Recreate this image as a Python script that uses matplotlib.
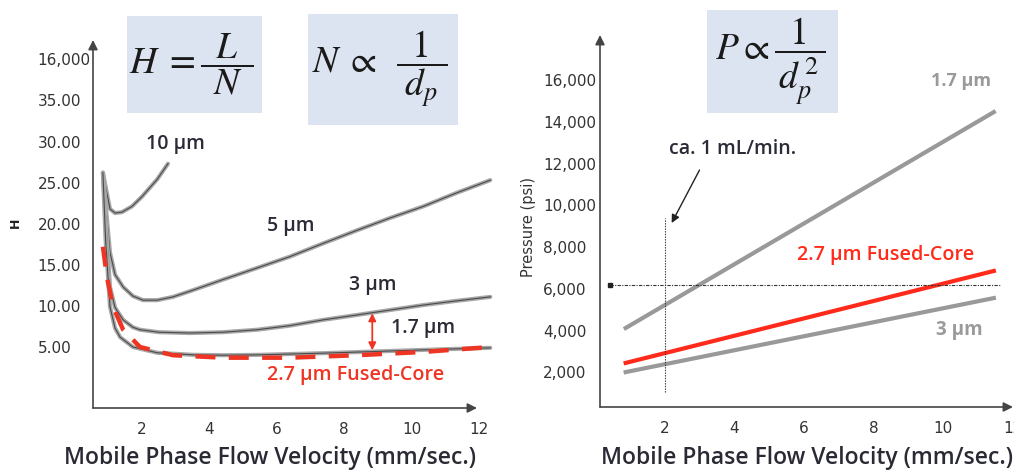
import matplotlib.pyplot as plt
from matplotlib.patches import Rectangle

plt.rcParams['mathtext.fontset'] = 'stix'

W, H = 1014, 472

# ---- left panel: van Deemter curves (H vs flow velocity) ----
h_ticks = [5, 10, 15, 20, 25, 30, 35, 40]
h_labels = ['5.00', '10.00', '15.00', '20.00', '25.00', '30.00', '35.00', '16,000']
flow_ticks = [2, 4, 6, 8, 10, 12]

x_10um = [0.84, 0.92, 1.05, 1.2, 1.4, 1.7, 2.0, 2.45, 2.77]
h_10um = [26.2, 24.5, 21.8, 21.3, 21.4, 22.1, 23.3, 25.4, 27.3]

x_5um = [0.84, 0.95, 1.05, 1.2, 1.44, 1.73, 2.03, 2.45, 2.92, 3.5, 4.4, 5.4, 6.39,
         7.37, 8.38, 9.36, 10.34, 11.3, 12.33]
h_5um = [26.2, 21.0, 16.5, 13.8, 12.3, 11.2, 10.7, 10.7, 11.1, 11.9, 13.2, 14.6, 16.0,
         17.6, 19.2, 20.7, 22.1, 23.7, 25.3]

x_3um = [0.84, 0.93, 1.05, 1.2, 1.44, 1.73, 1.94, 2.5, 3.42, 4.4, 5.41, 6.39, 7.37,
         8.38, 9.36, 10.34, 11.3, 12.33]
h_3um = [26.2, 20.0, 12.3, 9.8, 8.3, 7.4, 7.1, 6.8, 6.7, 6.8, 7.1, 7.6, 8.3,
         8.9, 9.5, 10.1, 10.6, 11.1]

x_17um = [0.84, 0.92, 1.05, 1.2, 1.35, 1.73, 2.45, 3.5, 4.4, 5.5, 7.37, 8.5, 10.34, 12.33]
h_17um = [26.2, 18.0, 9.9, 7.3, 6.2, 5.0, 4.3, 4.05, 4.0, 4.05, 4.25, 4.4, 4.65, 4.9]

x_fc = [0.84, 0.96, 1.14, 1.44, 1.94, 2.92, 4.4, 6.39, 8.38, 10.34, 12.33]
h_fc = [17.2, 13.5, 9.9, 7.1, 5.0, 4.0, 3.7, 3.7, 4.0, 4.4, 5.0]

# ---- right panel: pressure vs flow velocity ----
p_ticks = [2000, 4000, 6000, 8000, 10000, 12000, 14000, 16000]
x_p = [0.88, 11.45]
p_17um = [4125, 14480]
p_fc = [2450, 6860]
p_3um = [2010, 5560]
p_limit = 6200
flow_1ml = 2.0

RED = '#ee3524'
DARK = '#2b2b38'
BOX = '#dde4f1'

fig = plt.figure(figsize=(W / 100, H / 100), dpi=100)


def add_ax(left, right, top, bottom):
    return fig.add_axes([left / W, 1 - bottom / H, (right - left) / W, (bottom - top) / H])


def arrow_axes(ax, x1, y1):
    ax.annotate('', xy=(x1, y1), xytext=(0, 0), xycoords='axes fraction',
                arrowprops=dict(arrowstyle='-|>', color='#444444', lw=1.2,
                                mutation_scale=14, shrinkA=0, shrinkB=0))


def formula_box(left, right, top, bottom, tex, size, dx=0):
    fig.patches.append(Rectangle((left / W, 1 - bottom / H), (right - left) / W,
                                 (bottom - top) / H, transform=fig.transFigure,
                                 facecolor=BOX, edgecolor='none', zorder=0))
    fig.text(((left + right) / 2 + dx) / W, 1 - (top + bottom) / 2 / H, tex, fontsize=size,
             ha='center', va='center', color='#1a1a1a')


# left axes
ax1 = add_ax(93, 495, 40, 408)
ax1.set_xlim(0.546, 12.47)
ax1.set_ylim(-2.42, 42.35)

for x, y in [(x_10um, h_10um), (x_5um, h_5um), (x_3um, h_3um), (x_17um, h_17um)]:
    ax1.plot(x, y, color='#a8a8a8', lw=3.0, solid_capstyle='round')
    ax1.plot(x, y, color='#4a4a4a', lw=0.8)
ax1.plot(x_fc, h_fc, color=RED, lw=3.2, dashes=(4.5, 3.0))

ax1.annotate('', xy=(8.83, 9.1), xytext=(8.83, 4.6),
             arrowprops=dict(arrowstyle='<|-|>', color=RED, lw=1.3, mutation_scale=11,
                             shrinkA=0, shrinkB=0))

lab = dict(fontfamily='Open Sans', fontweight='semibold', color=DARK)
ax1.text(3.0, 29.7, '10 µm', fontsize=14, ha='center', va='center', **lab)
ax1.text(6.4, 19.7, '5 µm', fontsize=14, ha='center', va='center', **lab)
ax1.text(8.85, 12.6, '3 µm', fontsize=14, ha='center', va='center', **lab)
ax1.text(10.35, 7.3, '1.7 µm', fontsize=14, ha='center', va='center', **lab)
ax1.text(8.33, 1.6, '2.7 µm Fused-Core', fontsize=14.2, ha='center', va='center',
         fontfamily='Open Sans', fontweight='semibold', color=RED)

# right axes
ax2 = add_ax(600, 1013, 35, 407)
ax2.set_xlim(0.143, 11.94)
ax2.set_ylim(336, 18177)

ax2.plot(x_p, p_17um, color='#999999', lw=3.0)
ax2.plot(x_p, p_3um, color='#999999', lw=3.0)
ax2.plot(x_p, p_fc, color='#ff2a1a', lw=3.0)
ax2.plot([0.43, 11.66], [p_limit, p_limit], color='#333333', lw=0.8,
         dashes=(3, 1.2, 1, 1.2))
ax2.plot([0.43], [p_limit], marker='s', ms=2.5, color='#222222')
ax2.plot([flow_1ml, flow_1ml], [1050, 9400], color='#333333', lw=0.8, dashes=(1.2, 1.2))

ax2.annotate('', xy=(2.2, 9160), xytext=(3.0, 11700),
             arrowprops=dict(arrowstyle='-|>', color='#222222', lw=1.0, mutation_scale=12,
                             shrinkA=0, shrinkB=0))
ax2.text(3.95, 12700, 'ca. 1 mL/min.', fontsize=14, ha='center', va='center', **lab)
ax2.text(10.5, 15950, '1.7 µm', fontsize=13, ha='center', va='center',
         fontfamily='Open Sans', fontweight='bold', color='#9a9a9a')
ax2.text(8.35, 7620, '2.7 µm Fused-Core', fontsize=14.2, ha='center', va='center',
         fontfamily='Open Sans', fontweight='semibold', color='#ff2a1a')
ax2.text(10.47, 4030, '3 µm', fontsize=13.5, ha='center', va='center',
         fontfamily='Open Sans', fontweight='bold', color='#9a9a9a')

for ax in (ax1, ax2):
    for s in ax.spines.values():
        s.set_visible(False)
    ax.patch.set_alpha(0)
    ax.tick_params(length=0)
    ax.set_xticks(flow_ticks)
    ax.set_xticklabels([str(t) for t in flow_ticks], fontsize=11,
                       fontfamily='DejaVu Sans', color='#333333')
    ax.tick_params(axis='x', pad=10)
    ax.set_xlabel('Mobile Phase Flow Velocity (mm/sec.)', fontsize=16.5,
                  fontfamily='Open Sans', fontweight='semibold', color='#2a2a35')

ax1.xaxis.set_label_coords((270 - 93) / 402, -(446 - 408) / 368)
ax2.xaxis.set_label_coords((807 - 600) / 413, -(446 - 407) / 372)

arrow_axes(ax1, 0, 1)
arrow_axes(ax1, (477 - 93) / 402, 0)
arrow_axes(ax2, 0, 1)
arrow_axes(ax2, 1, 0)

ax1.set_yticks(h_ticks)
ax1.set_yticklabels(h_labels, fontsize=11, fontfamily='DejaVu Sans', color='#333333',
                    ha='left')
ax1.tick_params(axis='y', pad=40)
ax2.set_yticks(p_ticks)
ax2.set_yticklabels([f'{p:,}' for p in p_ticks], fontsize=11, fontfamily='DejaVu Sans',
                    color='#333333', ha='left')
ax2.tick_params(axis='y', pad=41)

fig.text(15 / W, 1 - 223 / H, 'H', fontsize=9, fontweight='bold', rotation=90,
         ha='center', va='center', color='#222222')
fig.text(528 / W, 1 - 227 / H, 'Pressure (psi)', fontsize=10.5, rotation=90,
         ha='center', va='center', color='#333333', fontfamily='DejaVu Sans')

formula_box(127, 262, 16, 113, r'$H\;=\dfrac{\;\;L\;\;}{N}$', 27, dx=-3)
formula_box(308, 458, 14, 125, r'$N\;\propto\;\;\dfrac{\;\;1\;\;}{d_p}$', 27, dx=-3)
formula_box(707, 838, 10, 113, r'$P\propto\dfrac{\;\;1\;\;}{d_p^{\,2}}$', 27, dx=-2)

fig.savefig('out.png', dpi=100)
